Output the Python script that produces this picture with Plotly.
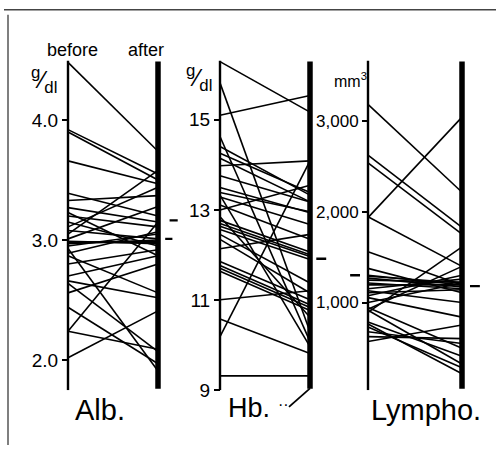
import plotly.graph_objects as go

# ---------------- data ----------------
alb_before = [4.48, 3.92, 3.90, 3.66, 3.39, 3.33, 3.27, 3.20, 3.05, 3.11, 3.01, 2.98, 2.98,
              2.97, 2.99, 2.95, 3.15, 3.08, 2.89, 2.80, 2.70, 2.66, 2.64, 2.44, 2.24, 2.02,
              2.24, 2.56, 2.93, 2.87, 3.23]
alb_after = [3.74, 3.55, 3.50, 3.47, 3.20, 3.37, 3.15, 3.11, 3.58, 3.44, 3.28, 2.99, 2.98,
             3.00, 2.97, 3.05, 2.95, 3.01, 3.07, 2.92, 2.87, 2.52, 2.07, 1.97, 2.09, 2.41,
             3.15, 2.80, 1.91, 2.56, 2.87]
alb_mean_after = 3.01

hb_before = [16.29, 15.82, 15.10, 14.63, 14.26, 13.98, 14.15, 13.76, 13.50, 13.39, 13.29,
             13.11, 12.77, 12.70, 12.64, 12.57, 12.46, 12.85, 12.35, 11.86, 11.77, 11.71,
             11.64, 11.01, 10.58, 10.19, 9.32, 13.33, 12.14, 14.41, 13.00]
hb_after = [15.17, 10.30, 15.54, 10.08, 13.39, 14.09, 13.18, 13.18, 12.94, 12.96, 12.68,
            12.35, 12.07, 12.01, 11.97, 11.90, 11.38, 10.62, 11.16, 11.01, 10.90, 10.84,
            10.77, 11.21, 9.82, 14.09, 9.32, 9.97, 12.46, 13.33, 13.55]
hb_mean_before = 12.77
hb_mean_after = 11.92

ly_before = [3183, 2624, 2538, 1935, 1946, 1559, 1301, 1290, 1269, 1247, 1215, 1194, 1151,
             1108, 1075, 1000, 892, 925, 946, 914, 763, 731, 677, 624, 570, 1129, 1054,
             1376, 785]
ly_after = [2215, 1828, 1753, 3043, 1398, 1194, 1194, 1215, 1172, 1226, 1151, 1194, 1258,
            1140, 1301, 1215, 1613, 1398, 495, 323, 215, 280, 548, 602, 753, 1000, 839,
            1108, 409]
ly_mean_before = 1300
ly_mean_after = 1180

alb_ticks = [2, 3, 4]
alb_ticktext = ["2.0", "3.0", "4.0"]
hb_ticks = [9, 11, 13, 15]
hb_ticktext = ["9", "11", "13", "15"]
ly_ticks = [1000, 2000, 3000]
ly_ticktext = ["1,000", "2,000", "3,000"]

# axis extents (value at top / bottom of the drawn vertical scales)
alb_range = [1.748, 4.496]
hb_range = [9.0, 16.316]
ly_range = [32, 3667]

# ---------------- layout helpers ----------------
W, H = 496, 456
FONT = "Liberation Sans"
XR = [-0.6, 1.35]
panels = [  # before-px, after-px
    (68, 158),
    (220, 310),
    (368, 462),
]
ydom = [1 - 400 / H, 1 - 62 / H]


def xdom(bpx, apx):
    w = apx - bpx
    return [(bpx + XR[0] * w) / W, (bpx + XR[1] * w) / W]


fig = go.Figure()


def add_panel(i, before, after, yrange, tickvals, ticktext, means, tsize):
    xa = "x" if i == 1 else f"x{i}"
    ya = "y" if i == 1 else f"y{i}"
    xs, ys = [], []
    for b, a in zip(before, after):
        xs += [0, 1, None]
        ys += [b, a, None]
    fig.add_trace(go.Scatter(x=xs, y=ys, mode="lines", xaxis=xa, yaxis=ya,
                             line=dict(color="black", width=1.6), hoverinfo="skip",
                             showlegend=False))
    # before scale (thin) and after scale (thick)
    fig.add_trace(go.Scatter(x=[0, 0], y=[yrange[0], yrange[1]], mode="lines",
                             xaxis=xa, yaxis=ya, line=dict(color="black", width=2.4),
                             showlegend=False, hoverinfo="skip"))
    fig.add_trace(go.Scatter(x=[1, 1], y=[yrange[0] + (yrange[1] - yrange[0]) * 0.005,
                                          yrange[1] - (yrange[1] - yrange[0]) * 0.003],
                             mode="lines", xaxis=xa, yaxis=ya,
                             line=dict(color="black", width=5.5), showlegend=False,
                             hoverinfo="skip"))
    for (x0, x1, yv) in means:
        fig.add_shape(type="line", xref=xa, yref=ya, x0=x0, x1=x1, y0=yv, y1=yv,
                      line=dict(color="black", width=2.4))
    bpx, apx = panels[i - 1]
    xkey = "xaxis" if i == 1 else f"xaxis{i}"
    ykey = "yaxis" if i == 1 else f"yaxis{i}"
    fig.update_layout({
        xkey: dict(domain=xdom(bpx, apx), range=XR, visible=False, anchor=ya),
        ykey: dict(domain=ydom, range=yrange, anchor="free", position=bpx / W,
                   showgrid=False, zeroline=False, showline=False,
                   ticks="outside", ticklen=6, tickwidth=2, tickcolor="black",
                   tickvals=tickvals, ticktext=ticktext,
                   tickfont=dict(family=FONT, size=tsize, color="black")),
    })


add_panel(1, alb_before, alb_after, alb_range, alb_ticks, alb_ticktext,
          [(1.08, 1.16, alb_mean_after)], 19)
add_panel(2, hb_before, hb_after, hb_range, hb_ticks, hb_ticktext,
          [(-0.56, -0.47, hb_mean_before), (1.07, 1.18, hb_mean_after)], 19)
add_panel(3, ly_before, ly_after, ly_range, ly_ticks, ly_ticktext,
          [(-0.19, -0.085, ly_mean_before), (1.085, 1.19, ly_mean_after)], 17)

ann = []


def txt(x, y, s, size, xanchor="center", yanchor="middle"):
    ann.append(dict(x=x / W, y=1 - y / H, xref="paper", yref="paper", text=s,
                    showarrow=False, xanchor=xanchor, yanchor=yanchor,
                    font=dict(family=FONT, size=size, color="black")))


txt(72, 51, "before", 18)
txt(146, 51, "after", 18)
txt(44, 82, "<sup>g</sup>⁄<sub>dl</sub>", 24)
txt(199, 80, "<sup>g</sup>⁄<sub>dl</sub>", 24)
txt(350, 82, "mm<sup>3</sup>", 16)
txt(100, 420, "Alb.", 29)
txt(249, 418, "Hb.", 27)
txt(426, 420, "Lympho.", 29)
txt(283, 415, "··", 16)

fig.add_shape(type="line", xref="paper", yref="paper", x0=289 / W, y0=1 - 417 / H,
              x1=310 / W, y1=1 - 398 / H, line=dict(color="black", width=1.8))
# frame of the scanned page
fig.add_shape(type="line", xref="paper", yref="paper", x0=4 / W, x1=1, y0=1 - 10 / H,
              y1=1 - 10 / H, line=dict(color="#444", width=1.5))
fig.add_shape(type="line", xref="paper", yref="paper", x0=8 / W, x1=8 / W, y0=0,
              y1=1 - 15 / H, line=dict(color="#555", width=1.5))

fig.update_layout(width=W, height=H, margin=dict(l=0, r=0, t=0, b=0),
                  paper_bgcolor="white", plot_bgcolor="rgba(0,0,0,0)",
                  annotations=ann, showlegend=False)

fig.write_html("out.html")
